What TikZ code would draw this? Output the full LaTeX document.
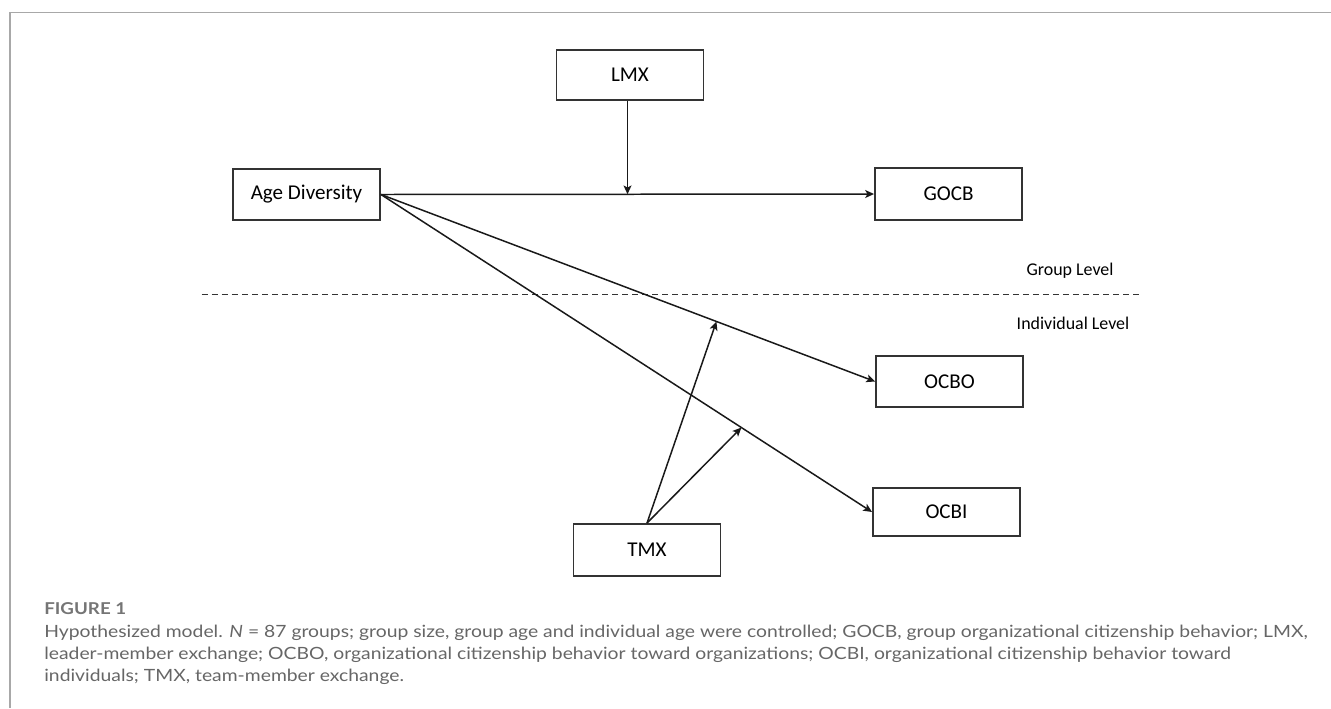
\documentclass[tikz,border=0pt]{standalone}
\usepackage{fontspec}
\setmainfont{Carlito}
\newfontfamily\capfont[FakeStretch=1.145]{Lato}
\usetikzlibrary{arrows.meta,calc}
\definecolor{boxgray}{HTML}{333333}
\definecolor{framegray}{HTML}{A8A8A8}
\definecolor{capgray}{HTML}{666666}
\begin{document}
\begin{tikzpicture}[x=0.02cm,y=-0.02cm,
    box/.style={draw=boxgray,line width=1.1pt,inner sep=0pt,
      minimum width=2.94cm,minimum height=1cm,font=\fontsize{12}{14}\selectfont},
    edge/.style={draw=black!90,line width=0.85pt,
      -{Stealth[length=5pt,width=4.5pt,inset=1.2pt]}},
    lvl/.style={font=\fontsize{10.2}{12}\selectfont},
    capline/.style={anchor=base west,inner sep=0pt,text=capgray,
      font=\capfont\fontsize{9.6}{12}\selectfont}]
  \useasboundingbox (0,0) rectangle (1331,708);
  \draw[framegray,line width=0.9pt] (1331,12.7) -- (10,12.7) -- (10,708);
  \node[box] (lmx) at (630,75) {LMX};
  \node[box,minimum height=1.02cm] (age) at (306.5,194.5) {Age Diversity};
  \node[box,minimum height=1.04cm] (gocb) at (948.5,194) {GOCB};
  \node[box,minimum height=1.02cm] (ocbo) at (949.5,381.5) {OCBO};
  \node[box,minimum height=0.96cm] (ocbi) at (946.5,512) {OCBI};
  \node[box,minimum height=1.04cm] (tmx) at (647,550) {TMX};
  \node[lvl] (grp) at (1070,271) {Group Level};
  \node[lvl] (ind) at (1073,323) {Individual Level};
  \draw[boxgray,line width=0.9pt,dash pattern=on 3.4pt off 2.3pt]
    (201.7,294.3) -- (1142,294.3);
  \coordinate (m1) at ($(age.east)!0.5!(gocb.west)$);
  \coordinate (m2) at ($(age.east)!0.679!(ocbo.west)$);
  \coordinate (m3) at ($(age.east)!0.734!(ocbi.west)$);
  \begin{scope}[edge]
    \draw (age.east) to (gocb.west);
    \draw (age.east) to (ocbo.west);
    \draw (age.east) to (ocbi.west);
    \draw (lmx.south -| m1) to (m1);
    \draw (tmx.north) to (m2);
    \draw (tmx.north) to (m3);
  \end{scope}
  \node[capline,text=capgray!90,font=\capfont\bfseries\fontsize{9.3}{10}\selectfont]
    (cap0) at (44,614) {FIGURE 1};
  \node[capline] (cap1) at (44,637.3) {Hypothesized model. \textit{N} = 87 groups; group size, group age and individual age were controlled; GOCB, group organizational citizenship behavior; LMX,};
  \node[capline] (cap2) at (44,659.5) {leader-member exchange; OCBO, organizational citizenship behavior toward organizations; OCBI, organizational citizenship behavior toward};
  \node[capline] (cap3) at (44,681.5) {individuals; TMX, team-member exchange.};
\end{tikzpicture}
\end{document}
